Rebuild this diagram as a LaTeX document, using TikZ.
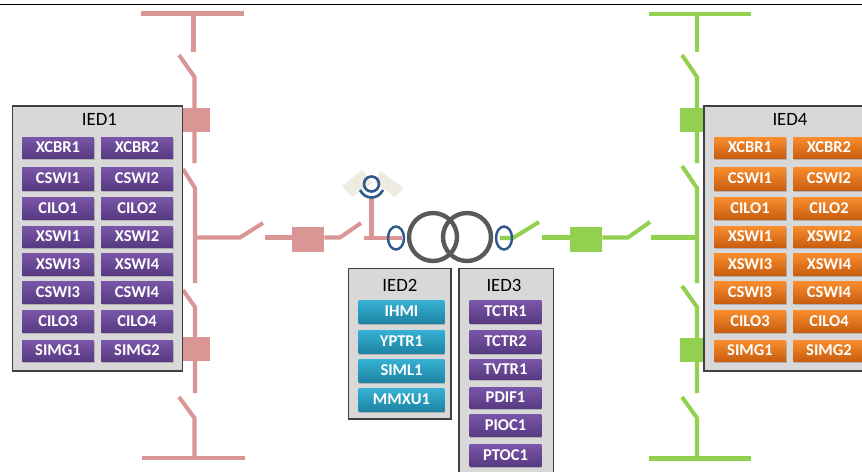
\documentclass[tikz,border=0pt]{standalone}
\usepackage{fontspec}
\setmainfont{Carlito}
\usetikzlibrary{shadows}
\definecolor{pinkline}{RGB}{217,150,148}
\definecolor{greenline}{RGB}{146,208,80}
\definecolor{boxgrey}{RGB}{216,216,216}
\definecolor{boxedge}{RGB}{64,64,64}
\definecolor{xfmrgrey}{RGB}{89,89,89}
\definecolor{ctblue}{RGB}{47,88,140}
\definecolor{wedgebeige}{RGB}{238,236,225}
\tikzset{
  ledbox/.style={draw=boxedge, fill=boxgrey, line width=0.6pt, drop shadow={shadow xshift=0.3pt, shadow yshift=-0.5pt, opacity=0.3}},
  iedlabel/.style={font=\fontsize{10.7}{12}\selectfont, text=black, inner sep=0pt},
  lnbtn/.style={inner sep=0pt, text=white, font=\fontsize{9.4}{11}\selectfont\bfseries, minimum width=1.44cm, drop shadow={shadow xshift=0.5pt, shadow yshift=-0.9pt, opacity=0.45}},
  purplebtn/.style={lnbtn, top color=purple1, bottom color=purple2},
  orangebtn/.style={lnbtn, top color=orange1, bottom color=orange2},
  tealbtn/.style={lnbtn, minimum width=1.72cm, top color=teal1, bottom color=teal2},
  pinkwire/.style={draw=pinkline, line width=2.3pt},
  greenwire/.style={draw=greenline, line width=2.3pt},
  breaker/.style={inner sep=0pt, minimum width=0.64cm, minimum height=0.49cm},
}
\definecolor{purple1}{RGB}{122,86,168}
\definecolor{purple2}{RGB}{88,58,130}
\definecolor{orange1}{RGB}{250,142,46}
\definecolor{orange2}{RGB}{200,94,16}
\definecolor{teal1}{RGB}{54,178,212}
\definecolor{teal2}{RGB}{30,132,164}
\begin{document}
\begin{tikzpicture}[x=0.02cm, y=-0.02cm]
  \clip (0,0) rectangle (862,471);
  % Top rule
  \draw[black, line width=0.7pt] (0,4.5) -- (862,4.5);
  % Left busbars and feeder
  \draw[pinkwire] (141,13.5) -- (244,13.5);
  \draw[pinkwire] (193.5,13.5) -- (193.5,52);
  \draw[pinkwire] (179,55) -- (194.5,77) -- (194.5,163);
  \draw[pinkwire] (183,169) -- (195,188) -- (195,283);
  \draw[pinkwire] (183,290) -- (195,307) -- (195,393);
  \draw[pinkwire] (179,397) -- (194.5,418) -- (194.5,458);
  \draw[pinkwire] (142,458) -- (245,458);
  \node[breaker, fill=pinkline] (brkA) at (194,120) {};
  \node[breaker, fill=pinkline] (brkB) at (194,349) {};
  % Left line to transformer
  \node[breaker, fill=pinkline] (brkC) at (308,239.5) {};
  \draw[pinkwire] (195,237.5) -- (240,237.5) -- (263,223);
  \draw[pinkwire] (265,237.5) -- (brkC.west |- 0,237.5);
  \draw[pinkwire] (brkC.east |- 0,237.5) -- (340,237.5) -- (361,223);
  \draw[pinkwire] (364,238) -- (402,238);
  \draw[pinkwire] (371.5,238) -- (371.5,198);
  % Voltage transformer
  \fill[wedgebeige] (342,186) -- (362,170) -- (372,183) -- (352,197) -- cycle;
  \fill[wedgebeige] (380,171) -- (404,188) -- (395,197) -- (375,183) -- cycle;
  \draw[ctblue, line width=1.5pt] (371.5,184) circle (7.5);
  \draw[ctblue, line width=1.5pt] (360,190) .. controls (365,200) and (378,200) .. (383,190);
  % Right line
  \node[breaker, fill=greenline] (brkD) at (586,239.5) {};
  \draw[greenwire] (500,238) -- (513,238) -- (539,222);
  \draw[greenwire] (542,237.5) -- (brkD.west |- 0,237.5);
  \draw[greenwire] (brkD.east |- 0,237.5) -- (628,237.5) -- (650,222);
  \draw[greenwire] (651,237.5) -- (697,237.5);
  % Right busbars and feeder
  \draw[greenwire] (648.5,14) -- (751,14);
  \draw[greenwire] (697,14) -- (697,52);
  \draw[greenwire] (682,55) -- (697,77) -- (697,163);
  \draw[greenwire] (682,166) -- (697,188) -- (697,283);
  \draw[greenwire] (682,286) -- (697,307) -- (697,393);
  \draw[greenwire] (682,397) -- (697,418) -- (697,458.5);
  \draw[greenwire] (648.5,458.5) -- (751,458.5);
  \node[breaker, fill=greenline] (brkE) at (696,120) {};
  \node[breaker, fill=greenline] (brkF) at (696,350) {};
  % Transformer
  \draw[xfmrgrey, line width=2.5pt] (433,237) circle (24);
  \draw[xfmrgrey, line width=2.5pt] (467,237) circle (24);
  \draw[ctblue, line width=1.4pt] (396,238) ellipse (8 and 11.5);
  \draw[ctblue, line width=1.4pt] (504,238) ellipse (8 and 11.5);
  % IED boxes
  \filldraw[ledbox] (12.5,106) rectangle (182.5,371);
  \filldraw[ledbox] (704,106) rectangle (880,371);
  \filldraw[ledbox] (348.5,268.5) rectangle (451,419);
  \filldraw[ledbox] (459,268.5) rectangle (553.5,480);
  \node[iedlabel] (lblA) at (99.5,119.5) {IED1};
  \node[iedlabel] (lblD) at (790,119.5) {IED4};
  \node[iedlabel] (lblB) at (400,285.5) {IED2};
  \node[iedlabel] (lblC) at (504,285.5) {IED3};
  % Logical nodes of IED1 and IED4
  \foreach \ied/\btn/\xa/\xb in {1/purplebtn/58/137, 4/orangebtn/750/829} {
    \foreach \lbla/\lblb/\y/\h in {XCBR1/XCBR2/147.5/21, CSWI1/CSWI2/178.5/23, CILO1/CILO2/208/22,
        XSWI1/XSWI2/236.5/21, XSWI3/XSWI4/264/22, CSWI3/CSWI4/292/22, CILO3/CILO4/321/22, SIMG1/SIMG2/350.5/21} {
      \node[\btn, minimum height=\h*0.02cm] (\lbla-\ied) at (\xa,\y) {\lbla};
      \node[\btn, minimum height=\h*0.02cm] (\lblb-\ied) at (\xb,\y) {\lblb};
    }
  }
  % Logical nodes of IED2
  \foreach \lbl/\y in {IHMI/311.5, YPTR1/341.5, SIML1/370.5, MMXU1/399.5} {
    \node[tealbtn, minimum height=0.46cm] (\lbl) at (401.5,\y) {\lbl};
  }
  % Logical nodes of IED3
  \foreach \lbl/\y/\h in {TCTR1/311.5/23, TCTR2/341.5/23, TVTR1/369/20, PDIF1/397.5/21, PIOC1/425/22, PTOC1/455/22} {
    \node[purplebtn, minimum height=\h*0.02cm] (\lbl) at (505.5,\y) {\lbl};
  }
\end{tikzpicture}
\end{document}
